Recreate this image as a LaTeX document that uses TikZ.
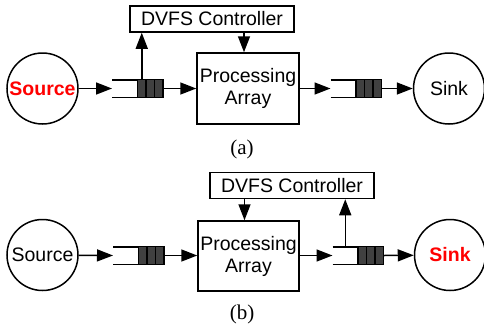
\documentclass[tikz,border=0pt]{standalone}
\usepackage{fontspec}
\setsansfont{Liberation Sans}
\setmainfont{Liberation Serif}
\usetikzlibrary{positioning,arrows.meta}

\newcommand{\QueueBox}[3]{%
  \node[qopen] (#1) at (#2,#3) {};
  \draw[qline] (#1.north west) -- (#1.north east) (#1.south west) -- (#1.south east);
  \node[qcell, right=0pt of #1] (#1c1) {};
  \node[qcell, right=0pt of #1c1] (#1c2) {};
  \node[qcell, right=0pt of #1c2] (#1c3) {};
}

\begin{document}
\begin{tikzpicture}[x=1pt,y=-1pt]
    \useasboundingbox (0,0) rectangle (484,333);
    \tikzset{qline/.style={line width=1.5pt},
             qopen/.style={minimum width=25.5pt, minimum height=17.5pt, inner sep=0pt, outer sep=0pt},
             qcell/.style={draw, line width=1.2pt, fill=black!75, minimum width=8.5pt, minimum height=17.5pt, inner sep=0pt, outer sep=0pt},
             EndPoint/.style={circle, draw, line width=1.5pt, minimum size=71pt, inner sep=0pt, font=\sffamily\fontsize{19.5}{22}\selectfont},
             Hot/.style={text=red, font=\sffamily\bfseries\fontsize{19.5}{22}\selectfont},
             Block/.style={draw, line width=1.5pt, inner sep=0pt, align=center, font=\sffamily\fontsize{19.5}{22}\selectfont},
             SubCap/.style={font=\rmfamily\fontsize{21}{24}\selectfont},
             flow/.style={line width=1.5pt, -{Triangle[length=16pt,width=12pt]}}}

    \node[EndPoint, Hot] (Sa) at (42.5,88.5) {Source};
    \node[EndPoint] (Ka) at (449,88.5) {Sink};
    \node[Block, minimum width=102pt, minimum height=71pt] (Pa) at (248,88.5) {Processing\\Array};
    \node[Block, minimum width=164pt, minimum height=26pt] (Da) at (212,19) {DVFS Controller};
    \QueueBox{Qa1}{124.75}{88.5}
    \QueueBox{Qa2}{343.25}{88.5}

    \draw[flow] (Sa) -- (Qa1.west);
    \draw[flow] (Qa1c3.east) -- (Pa.west);
    \draw[flow] (Pa.east) -- (Qa2.west);
    \draw[flow] (Qa2c3.east) -- (Ka);
    \draw[flow] (Qa1c1.north) -- (Qa1c1.north |- Da.south);
    \coordinate (ta) at ([xshift=-4pt]Pa.north);
    \draw[flow] (ta |- Da.south) -- (ta);
    \node[SubCap] (La) at (242,149) {(a)};

    \node[EndPoint] (Sb) at (42.5,255) {Source};
    \node[EndPoint, Hot] (Kb) at (450,255) {Sink};
    \node[Block, minimum width=101pt, minimum height=70pt] (Pb) at (248.5,256) {Processing\\Array};
    \node[Block, minimum width=164pt, minimum height=26pt] (Db) at (292,185.5) {DVFS Controller};
    \QueueBox{Qb1}{125.75}{255.5}
    \QueueBox{Qb2}{345.25}{255.5}

    \draw[flow] (Sb) -- (Qb1.west);
    \draw[flow] (Qb1c3.east) -- (Qb1c3.east -| Pb.west);
    \draw[flow] (Qb2.west -| Pb.east) -- (Qb2.west);
    \draw[flow] (Qb2c3.east) -- (Kb);
    \draw[flow] (Qb2.north) -- (Qb2.north |- Db.south);
    \coordinate (tb) at ([xshift=-4pt]Pb.north);
    \draw[flow] (tb |- Db.south) -- (tb);
    \node[SubCap] (Lb) at (242,314) {(b)};
\end{tikzpicture}
\end{document}
